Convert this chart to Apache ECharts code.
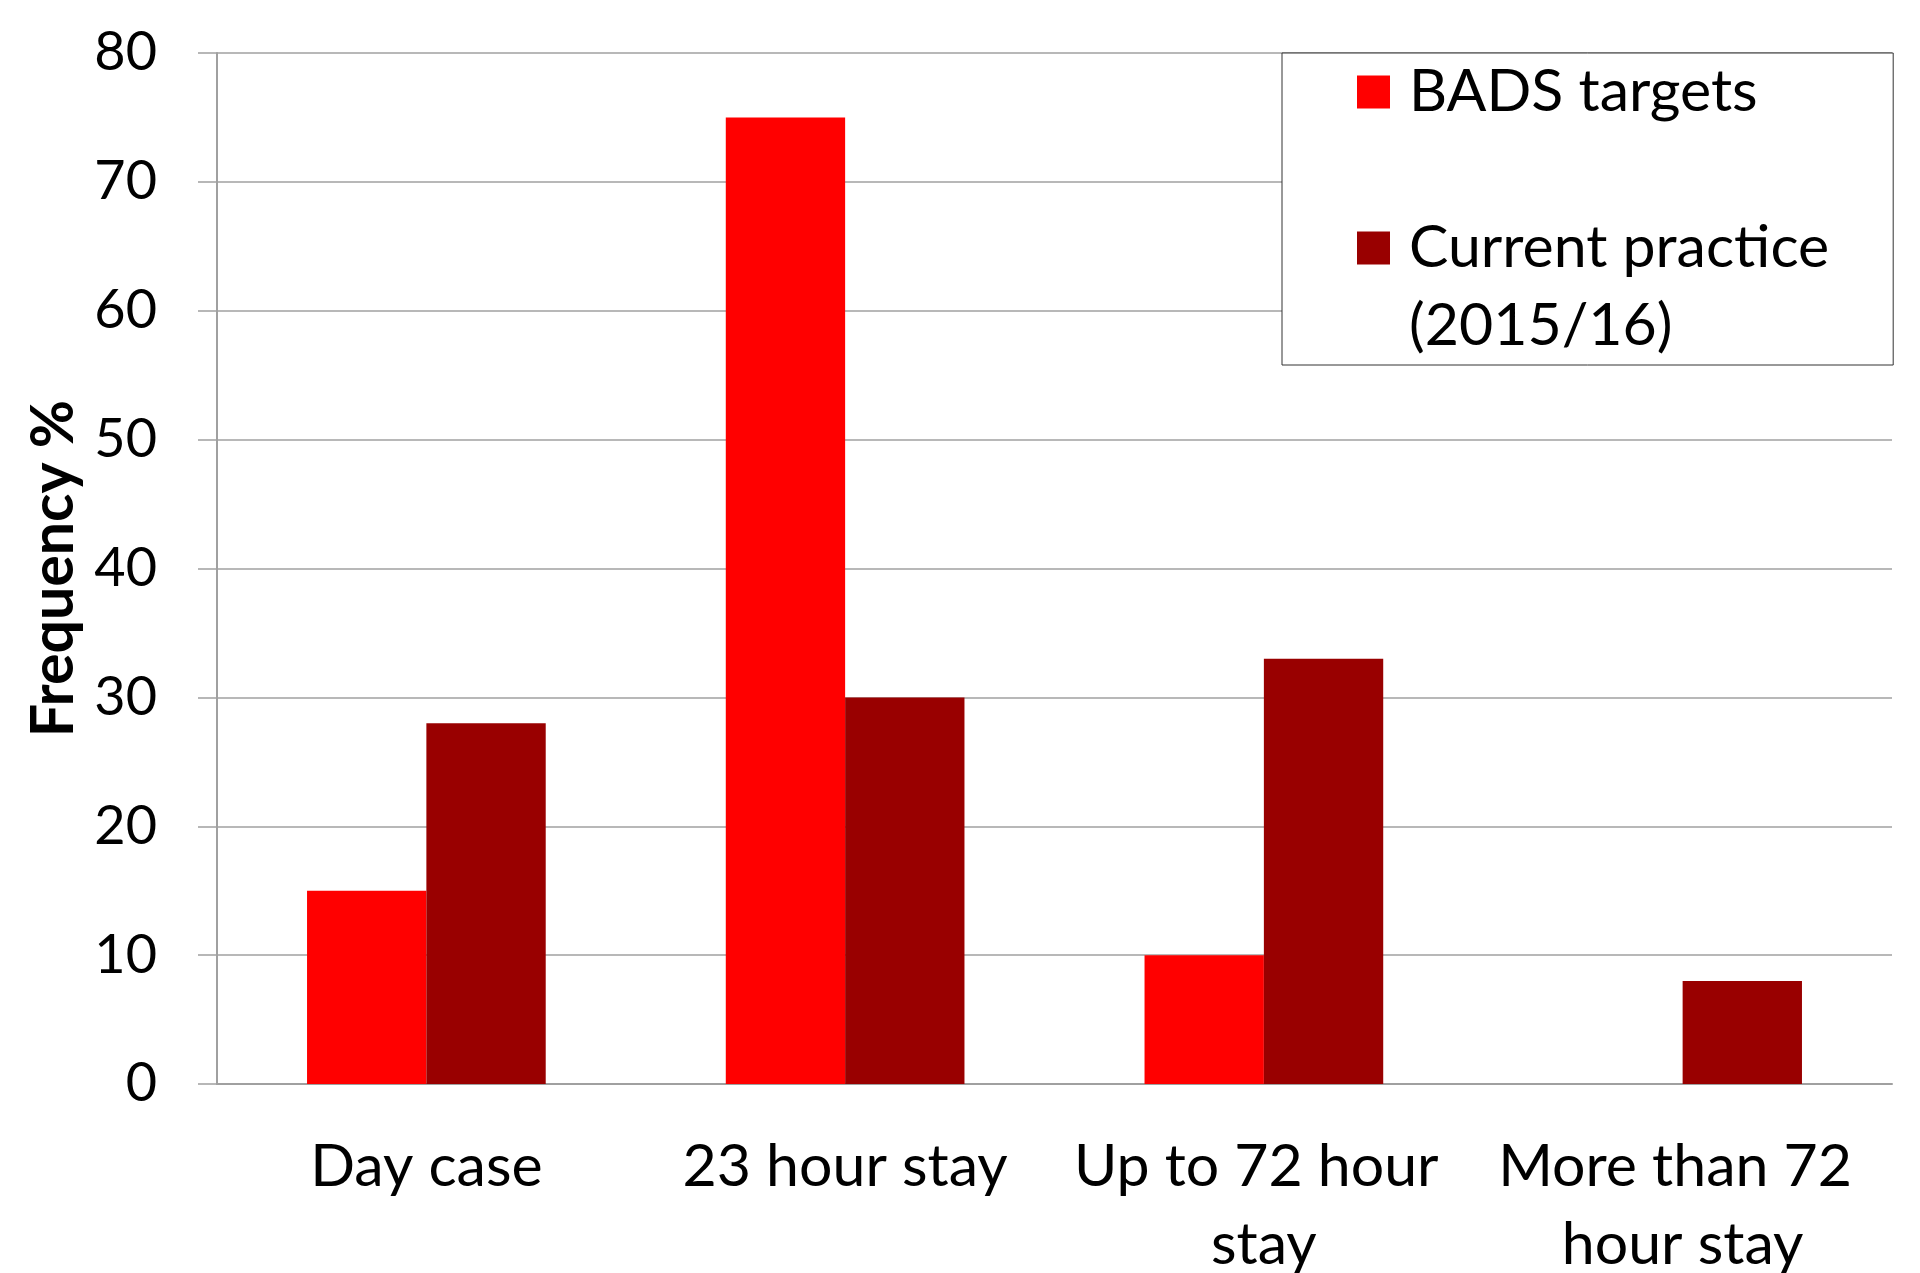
<!DOCTYPE html>
<html>
<head>
<meta charset="utf-8">
<script src="https://cdn.jsdelivr.net/npm/echarts@6/dist/echarts.min.js"></script>
<style>
  html, body { margin: 0; padding: 0; background: #fff; }
  #chart { width: 1920px; height: 1273px; }
</style>
</head>
<body>
<div id="chart"></div>
<script>
// Length of stay categories
const categories = ['Day case', '23 hour stay', 'Up to 72 hour stay', 'More than 72 hour stay'];
// Frequency (%) per category
const badsTargets = [15, 75, 10, 0];
const currentPractice = [28, 30, 33, 8];
// Y axis range
const yMin = 0;
const yMax = 80;
const yStep = 10;

const FONT = 'Lato, "Open Sans", sans-serif';
const GRID_GREY = '#a0a0a0';

const chart = echarts.init(document.getElementById('chart'), null, { renderer: 'canvas' });

chart.setOption({
  backgroundColor: '#ffffff',
  animation: false,
  grid: {
    left: 217, right: 28, top: 53, bottom: 189,
    containLabel: false,
    outerBoundsMode: 'none'
  },
  legend: {
    orient: 'vertical',
    left: 1282,
    top: 53,
    padding: [0, 64, 0, 75],
    itemWidth: 33,
    itemHeight: 33,
    itemGap: 0,
    icon: 'rect',
    backgroundColor: '#ffffff',
    borderColor: '#333333',
    borderWidth: 1,
    borderRadius: 0,
    textStyle: { fontFamily: FONT, fontSize: 59, color: '#000', lineHeight: 78, padding: [0, 0, 0, 14] },
    data: ['BADS targets', 'Current practice'],
    // the second entry keeps its swatch level with its first text line
    formatter: function (name) {
      return name === 'Current practice' ? '\nCurrent practice\n(2015/16)' : name;
    }
  },
  xAxis: {
    type: 'category',
    data: categories,
    axisLine: { show: true, lineStyle: { color: GRID_GREY, width: 2 } },
    axisTick: { show: false },
    axisLabel: {
      interval: 0,
      margin: 44,
      fontFamily: FONT,
      fontSize: 59,
      lineHeight: 78,
      color: '#000',
      width: 410,
      overflow: 'break'
    }
  },
  yAxis: {
    type: 'value',
    min: yMin,
    max: yMax,
    interval: yStep,
    name: 'Frequency %',
    nameLocation: 'middle',
    nameRotate: 90,
    nameGap: 116,
    nameTextStyle: { fontFamily: FONT, fontSize: 59, fontWeight: 'bold', color: '#000' },
    axisLine: { show: true, lineStyle: { color: GRID_GREY, width: 2 } },
    axisTick: { show: true, inside: false, length: 19, lineStyle: { color: GRID_GREY, width: 1.5 } },
    axisLabel: { margin: 60, fontFamily: FONT, fontSize: 54, color: '#000' },
    splitLine: { show: true, lineStyle: { color: GRID_GREY, width: 1.5 } }
  },
  series: [
    {
      name: 'BADS targets',
      type: 'bar',
      data: badsTargets,
      itemStyle: { color: '#ff0000' },
      barGap: '0%',
      barCategoryGap: '43%'
    },
    {
      name: 'Current practice',
      type: 'bar',
      data: currentPractice,
      itemStyle: { color: '#990000' },
      barGap: '0%',
      barCategoryGap: '43%'
    }
  ]
});
</script>
</body>
</html>
